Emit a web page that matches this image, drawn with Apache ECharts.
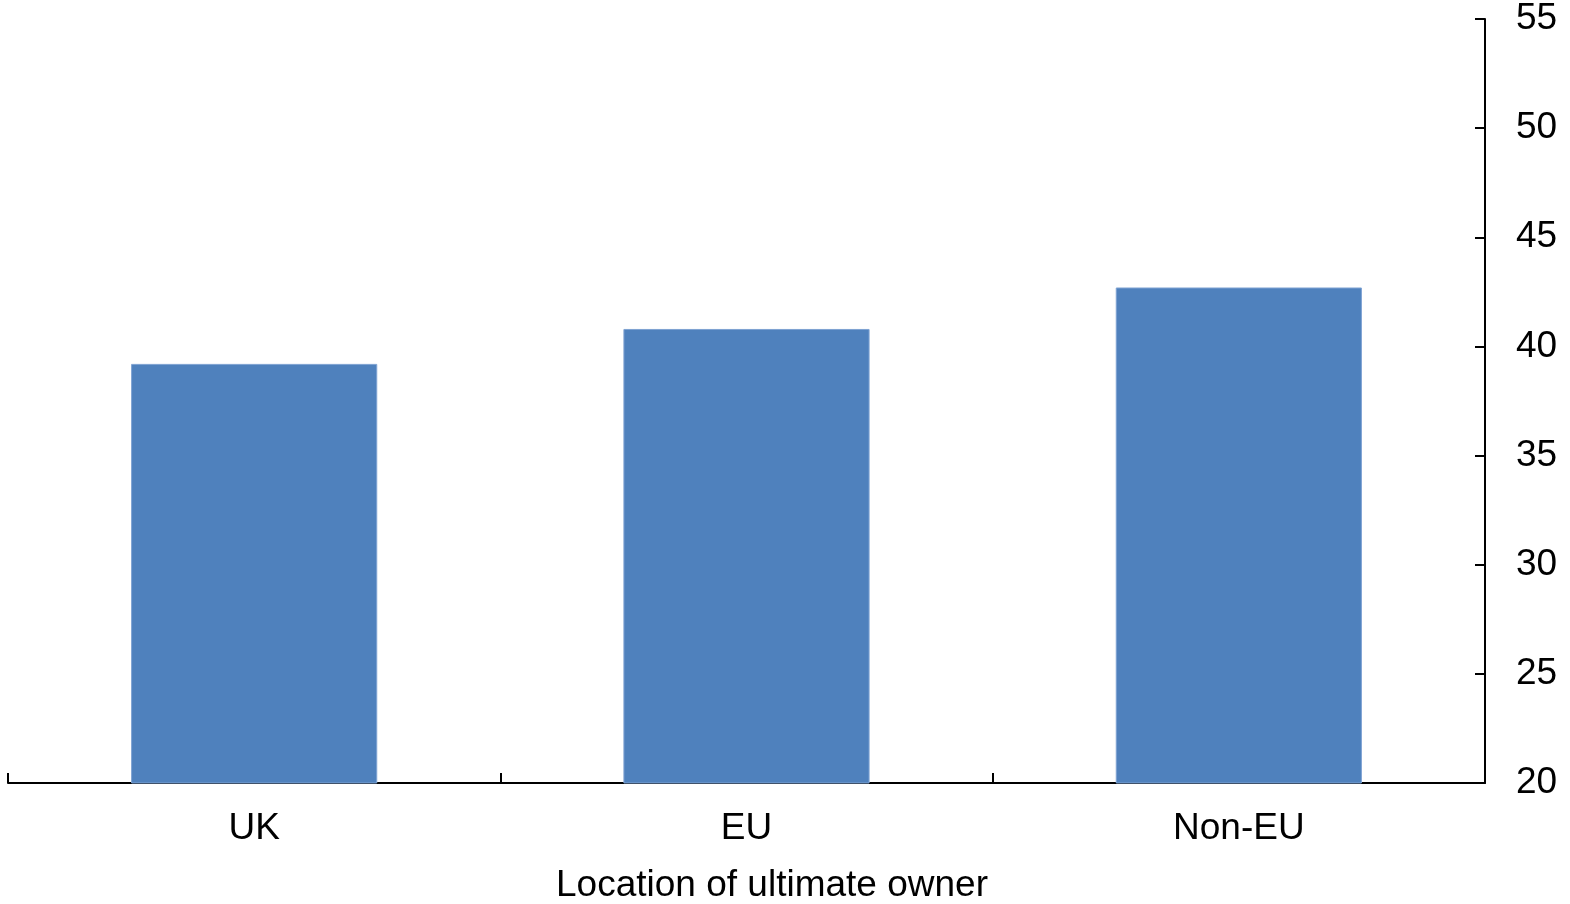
<!DOCTYPE html>
<html>
<head>
<meta charset="utf-8">
<script src="https://cdn.jsdelivr.net/npm/echarts@6/dist/echarts.min.js"></script>
<style>
  html, body { margin: 0; padding: 0; background: #fff; }
  #chart { width: 1570px; height: 904px; }
</style>
</head>
<body>
<div id="chart"></div>
<script>
// Location of ultimate owner
const categories = ['UK', 'EU', 'Non-EU'];
const values = [39.2, 40.8, 42.7];

const font = '"Liberation Sans", Arial, sans-serif';
const chart = echarts.init(document.getElementById('chart'));
chart.setOption({
  animation: false,
  grid: { left: 8, right: 85, top: 19, bottom: 121, containLabel: false, outerBoundsMode: 'none' },
  xAxis: {
    type: 'category',
    data: categories,
    name: 'Location of ultimate owner',
    nameLocation: 'middle',
    nameGap: 84,
    nameTextStyle: { fontFamily: font, fontSize: 37, color: '#000', padding: [0, 0, 0, 51] },
    axisLine: { lineStyle: { color: '#000', width: 2 } },
    axisTick: { show: true, inside: true, length: 10, alignWithLabel: false, interval: 0,
                lineStyle: { color: '#000', width: 2 } },
    axisLabel: { fontFamily: font, fontSize: 37, color: '#000', margin: 27 },
    splitLine: { show: false }
  },
  yAxis: {
    type: 'value',
    position: 'right',
    min: 20,
    max: 55,
    interval: 5,
    axisLine: { show: true, lineStyle: { color: '#000', width: 2 } },
    axisTick: { show: true, inside: true, length: 10, lineStyle: { color: '#000', width: 2 } },
    axisLabel: { fontFamily: font, fontSize: 37, color: '#000', margin: 31, padding: [4, 0, 0, 0] },
    splitLine: { show: false }
  },
  series: [{
    type: 'bar',
    data: values,
    barWidth: '50%',
    itemStyle: { color: '#4F81BD', borderColor: '#7FA3D3', borderWidth: 1 }
  }]
});
</script>
</body>
</html>
